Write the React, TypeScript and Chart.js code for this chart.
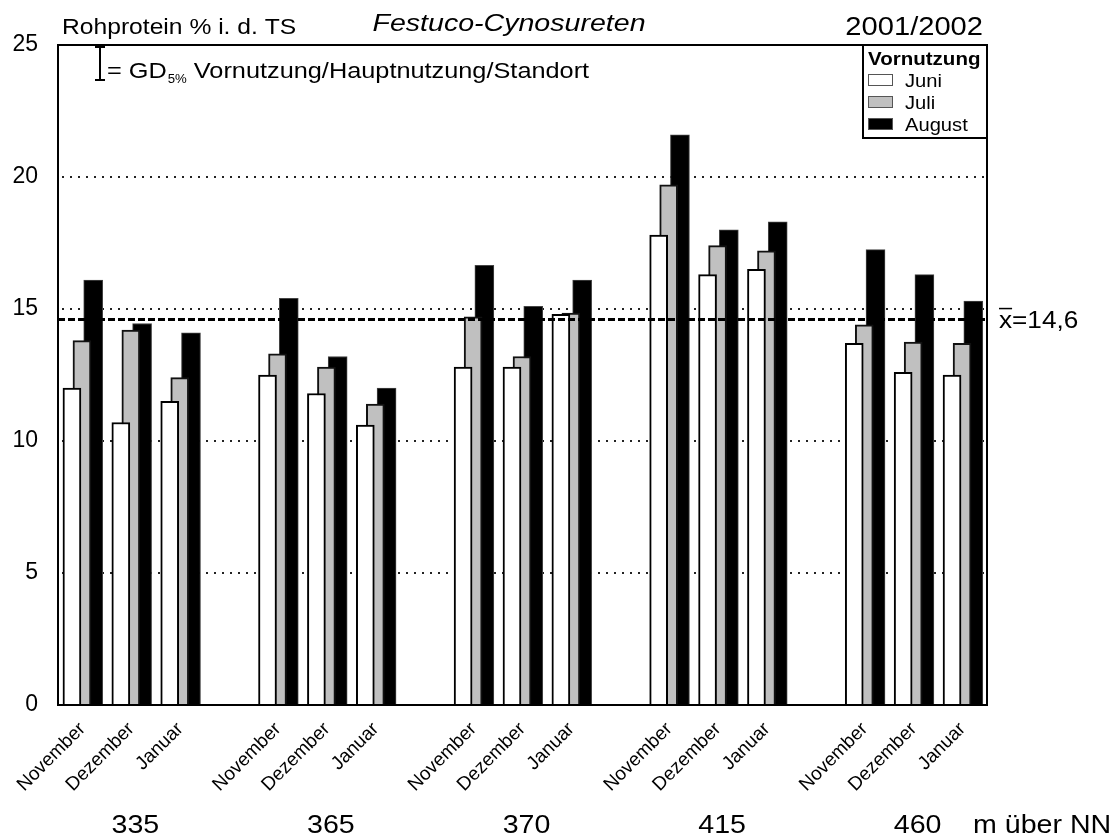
import React, { useEffect, useRef } from "react";
import { Chart, registerables } from "chart.js";

Chart.register(...registerables);

// ---- data ----
const months = ["November", "Dezember", "Januar"];
const sites = ["335", "365", "370", "415", "460"];
const seriesNames = ["Juni", "Juli", "August"];
// Rohprotein % i. d. TS, order: site x month
const juni = [12.0, 10.7, 11.5, 12.5, 11.8, 10.6, 12.8, 12.8, 14.8, 17.8, 16.3, 16.5, 13.7, 12.6, 12.5];
const juli = [13.8, 14.2, 12.4, 13.3, 12.8, 11.4, 14.7, 13.2, 14.85, 19.7, 17.4, 17.2, 14.4, 13.75, 13.7];
const august = [16.1, 14.45, 14.1, 15.4, 13.2, 12.0, 16.65, 15.1, 16.1, 21.6, 18.0, 18.3, 17.25, 16.3, 15.3];
const yTicks = [0, 5, 10, 15, 20, 25];
const gridValues = [5, 10, 15, 20];
const meanValue = 14.6;
const meanText = "=14,6";
const titleLeft = "Rohprotein % i. d. TS";
const titleCenter = "Festuco-Cynosureten";
const titleRight = "2001/2002";
const legendTitle = "Vornutzung";
const gdText = ["= GD", "5%", " Vornutzung/Hauptnutzung/Standort"];
const unitText = "m über NN";

// ---- layout constants ----
const W = 1117;
const H = 837;
const FONT = "'Liberation Sans', Arial, Helvetica, sans-serif";
const SLOTS_PER_SITE = 4;
const barOffsets = [-0.215, -0.01, 0.22];
const fills = ["#ffffff", "#c0c0c0", "#000000"];
const borders = ["#000000", "#111111", "#444444"];
const borderWidths = [2, 2, 1];
const thickness = [18, 18, 19];

const slotOf = (i: number) => Math.floor(i / 3) * SLOTS_PER_SITE + (i % 3);
const nSlots = sites.length * SLOTS_PER_SITE - 1;
const slotLabels = Array.from({ length: nSlots }, (_, i) =>
  i % SLOTS_PER_SITE === 3 ? "" : months[i % SLOTS_PER_SITE]
);

function drawText(ctx: CanvasRenderingContext2D, s: string, x: number, y: number, font: string, align: string, sx: number) {
  ctx.save();
  ctx.font = font;
  ctx.textBaseline = "alphabetic";
  ctx.textAlign = "left";
  const w = ctx.measureText(s).width * sx;
  const left = align === "center" ? x - w / 2 : align === "right" ? x - w : x;
  ctx.translate(left, y);
  ctx.scale(sx, 1);
  ctx.fillStyle = "#000";
  ctx.fillText(s, 0, 0);
  ctx.restore();
  return w;
}

const decoPlugin = {
  id: "deco",
  beforeDatasetsDraw(chart: any) {
    const { ctx, chartArea: a, scales } = chart;
    const y = scales.y;
    ctx.save();
    ctx.strokeStyle = "#222";
    ctx.lineWidth = 2;
    ctx.setLineDash([2, 6]);
    for (const v of gridValues) {
      const py = Math.round(y.getPixelForValue(v));
      ctx.beginPath();
      ctx.moveTo(a.left + 4, py);
      ctx.lineTo(a.right, py);
      ctx.stroke();
    }
    ctx.restore();
  },
  afterDatasetsDraw(chart: any) {
    const { ctx, chartArea: a, scales } = chart;
    const y = scales.y;
    const x = scales.x;
    // mean line
    const my = y.getPixelForValue(meanValue);
    ctx.save();
    ctx.strokeStyle = "#000";
    ctx.lineWidth = 3;
    ctx.setLineDash([7, 3]);
    ctx.beginPath();
    ctx.moveTo(a.left, my);
    ctx.lineTo(a.right, my);
    ctx.stroke();
    ctx.setLineDash([]);
    // frame
    ctx.lineWidth = 2;
    ctx.strokeRect(a.left, a.top, a.right - a.left, a.bottom - a.top);
    // legend box
    const lx = 863;
    const lb = 138;
    ctx.fillStyle = "#fff";
    ctx.fillRect(lx + 1, a.top + 1, a.right - lx - 2, lb - a.top - 2);
    ctx.beginPath();
    ctx.moveTo(lx, a.top);
    ctx.lineTo(lx, lb);
    ctx.lineTo(a.right, lb);
    ctx.stroke();
    drawText(ctx, legendTitle, lx + 5, 65, `bold 19px ${FONT}`, "left", 1.08);
    for (let k = 0; k < 3; k++) {
      const sy = 74 + k * 22;
      ctx.fillStyle = fills[k];
      ctx.fillRect(lx + 5, sy, 25, 12);
      ctx.lineWidth = 1;
      ctx.strokeStyle = "#555";
      ctx.strokeRect(lx + 5.5, sy + 0.5, 24, 11);
      drawText(ctx, seriesNames[k], lx + 42, sy + 12.5, `18px ${FONT}`, "left", 1.12);
    }
    // GD symbol
    ctx.strokeStyle = "#000";
    ctx.lineWidth = 2;
    ctx.beginPath();
    ctx.moveTo(100, 47);
    ctx.lineTo(100, 80);
    ctx.moveTo(95, 47);
    ctx.lineTo(105, 47);
    ctx.moveTo(95, 80);
    ctx.lineTo(105, 80);
    ctx.stroke();
    let gx = 107;
    gx += drawText(ctx, gdText[0], gx, 78, `22px ${FONT}`, "left", 1.15);
    gx += drawText(ctx, gdText[1], gx + 1, 83, `12px ${FONT}`, "left", 1.1) + 1;
    drawText(ctx, gdText[2], gx, 78, `22px ${FONT}`, "left", 1.15);
    ctx.restore();

    // titles
    drawText(ctx, titleLeft, 62, 34, `22px ${FONT}`, "left", 1.12);
    drawText(ctx, titleCenter, 509, 31, `italic 24px ${FONT}`, "center", 1.19);
    drawText(ctx, titleRight, 983, 35, `26px ${FONT}`, "right", 1.12);
    // mean label
    const mx = a.right + 12;
    const xw = drawText(ctx, "x", mx, my + 8, `24px ${FONT}`, "left", 1.09);
    ctx.save();
    ctx.strokeStyle = "#000";
    ctx.lineWidth = 1.5;
    ctx.beginPath();
    ctx.moveTo(mx, my - 11);
    ctx.lineTo(mx + xw, my - 11);
    ctx.stroke();
    ctx.restore();
    drawText(ctx, meanText, mx + xw, my + 8, `24px ${FONT}`, "left", 1.09);
    // site labels
    sites.forEach((s, g) => {
      const px = x.getPixelForValue(g * SLOTS_PER_SITE + 1) + 4;
      drawText(ctx, s, px, 833, `26px ${FONT}`, "center", 1.1);
    });
    drawText(ctx, unitText, 973, 833, `26px ${FONT}`, "left", 1.1);
  },
};

export default function App() {
  const ref = useRef<HTMLCanvasElement | null>(null);
  useEffect(() => {
    if (!ref.current) return;
    const seriesValues = [juni, juli, august];
    const chart = new Chart(ref.current, {
      type: "bar",
      data: {
        datasets: seriesValues.map((vals, k) => ({
          label: seriesNames[k],
          data: vals.map((v, i) => ({ x: slotOf(i) + barOffsets[k], y: v })),
          backgroundColor: fills[k],
          borderColor: borders[k],
          borderWidth: borderWidths[k],
          barThickness: thickness[k],
          grouped: false,
        })),
      },
      options: {
        animation: false,
        responsive: false,
        devicePixelRatio: 1,
        layout: { padding: { left: 0, top: 45, right: 130, bottom: 0 } },
        plugins: { legend: { display: false }, tooltip: { enabled: false }, title: { display: false } },
        scales: {
          x: {
            type: "linear",
            min: -0.5,
            max: nSlots - 0.5,
            offset: false,
            grid: { display: false },
            border: { display: false },
            afterBuildTicks: (scale: any) => {
              scale.ticks = slotLabels
                .map((l, i) => ({ value: i, l }))
                .filter((t) => t.l !== "")
                .map((t) => ({ value: t.value }));
            },
            afterFit: (scale: any) => {
              scale.height = 132;
            },
            ticks: {
              autoSkip: false,
              maxRotation: 45,
              minRotation: 45,
              padding: 5,
              color: "#000",
              font: { family: FONT, size: 19 },
              callback: (v: any) => slotLabels[Math.round(Number(v))] ?? "",
            },
          },
          y: {
            min: 0,
            max: 25,
            grid: { display: false, drawTicks: false },
            border: { display: false },
            afterBuildTicks: (scale: any) => {
              scale.ticks = yTicks.map((v) => ({ value: v }));
            },
            afterFit: (scale: any) => {
              scale.width = 58;
            },
            ticks: {
              padding: 20,
              color: "#000",
              font: { family: FONT, size: 23 },
            },
          },
        },
      },
      plugins: [decoPlugin],
    } as any);
    return () => chart.destroy();
  }, []);
  return (
    <div style={{ position: "fixed", left: 0, top: 0, width: W, height: H, background: "#fff" }}>
      <canvas ref={ref} width={W} height={H} style={{ display: "block" }} />
    </div>
  );
}
